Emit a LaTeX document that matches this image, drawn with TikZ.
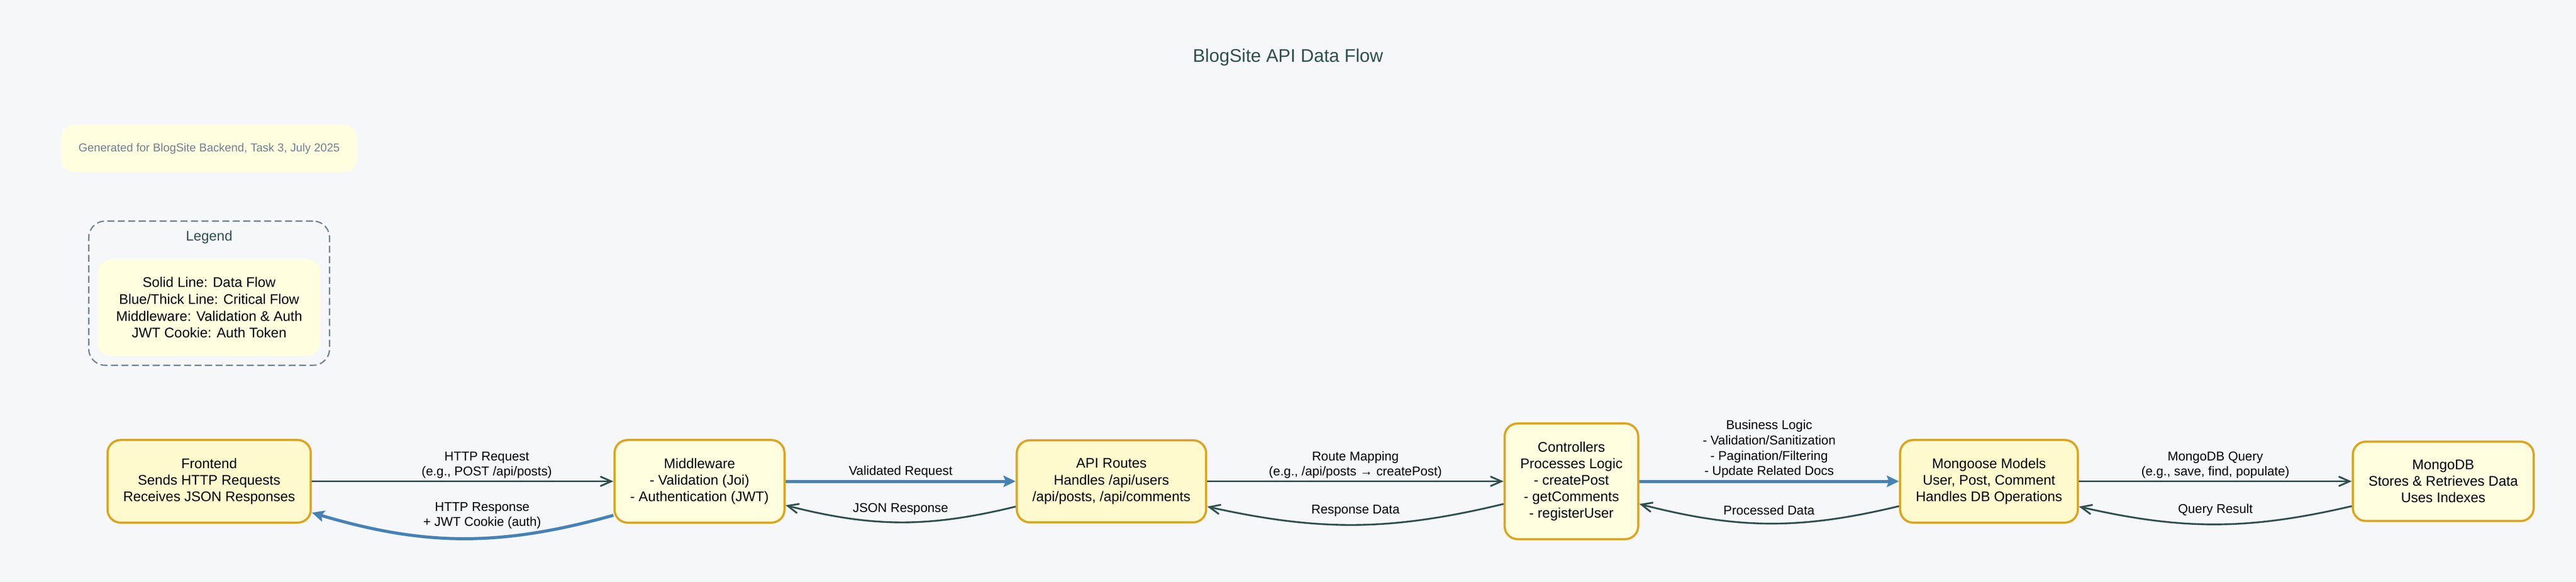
\documentclass[tikz,border=0pt]{standalone}
\usepackage{fontspec}
\setmainfont{Liberation Sans}
\usetikzlibrary{arrows.meta,positioning,fit}
\usepackage{xcolor}
\definecolor{bgcol}{HTML}{F5F7FA}
\definecolor{darkslate}{HTML}{2F4F4F}
\definecolor{steelblue}{HTML}{4682B4}
\definecolor{goldenrod}{HTML}{DAA520}
\definecolor{lemonchiffon}{HTML}{FFFACD}
\definecolor{lightyel}{HTML}{FFFFE0}
\definecolor{slategray}{HTML}{708090}

\begin{document}
\begin{tikzpicture}[
				comp/.style={draw=goldenrod,line width=0.05cm,rounded corners=0.3cm,fill=lemonchiffon,align=center,inner xsep=0.36cm,inner ysep=0.42cm,font=\fontsize{9.1}{10.8}\selectfont},
				compalt/.style={comp,fill=lightyel},
				flow/.style={draw=darkslate,line width=1.14pt,-{Straight Barb[length=2.5mm,width=2.2mm]}},
				critical/.style={draw=steelblue,line width=2pt,-{Stealth[length=2.8mm,width=2.6mm,inset=0.5mm]}},
				lbl/.style={font=\fontsize{8.36}{9.96}\selectfont,align=center,inner sep=0.45mm}
				]
				
				% Sfondo
				\useasboundingbox (0,0) rectangle (59.12,13.36);
				\fill[bgcol] (0,0) rectangle (59.12,13.36);
				
				% Titolo
				\node[font=\fontsize{11.95}{14}\selectfont,text=darkslate] (title) at (29.56,12.04) {BlogSite API Data Flow};
				
				% Componenti
				\node[comp] (frontend) at (4.80,2.31) {Frontend\\Sends HTTP Requests\\Receives JSON Responses};
				\node[compalt,right=6.92cm of frontend] (middleware) {Middleware\\- Validation (Joi)\\- Authentication (JWT)};
				\node[comp,right=5.28cm of middleware] (routes) {API Routes\\Handles /api/users\\/api/posts, /api/comments};
				\node[compalt,right=6.80cm of routes] (controllers) {Controllers\\Processes Logic\\- createPost\\- getComments\\- registerUser};
				\node[comp,right=5.96cm of controllers] (models) {Mongoose Models\\User, Post, Comment\\Handles DB Operations};
				\node[compalt,right=6.26cm of models] (mongodb) {MongoDB\\Stores \& Retrieves Data\\Uses Indexes};
				
				% Legenda
				\node[fill=lightyel,rounded corners=0.29cm,align=center,inner sep=0.41cm,font=\fontsize{9.1}{11}\selectfont,above=1.9cm of frontend] (leginner) {Solid Line: Data Flow\\Blue/Thick Line: Critical Flow\\Middleware: Validation \& Auth\\JWT Cookie: Auth Token};
				\node[font=\fontsize{9.1}{11}\selectfont,text=darkslate,inner sep=0pt,above=0.35cm of leginner] (legtitle) {Legend};
				\node[draw=slategray,line width=0.85pt,dash pattern=on 0.16cm off 0.08cm,rounded corners=0.38cm,inner sep=0.21cm,fit=(legtitle)(leginner)] (legend) {};
				\node[fill=lightyel,rounded corners=0.3cm,inner xsep=0.4cm,inner ysep=0.42cm,text=slategray,font=\fontsize{7.54}{9}\selectfont,above=1.1cm of legend] (generated) {Generated for BlogSite Backend, Task 3, July 2025};
				
				% Richieste
				\draw[flow] (frontend) -- node[lbl,above,pos=0.58] {HTTP Request\\(e.g., POST /api/posts)} (middleware);
				\draw[critical] (middleware) -- node[lbl,above] {Validated Request} (routes);
				\draw[flow] (routes) -- node[lbl,above] {Route Mapping\\(e.g., /api/posts → createPost)} (controllers);
				\draw[critical] (controllers) -- node[lbl,above] {Business Logic\\- Validation/Sanitization\\- Pagination/Filtering\\- Update Related Docs} (models);
				\draw[flow] (models) -- node[lbl,above] {MongoDB Query\\(e.g., save, find, populate)} (mongodb);
				
				% Risposte
				\draw[critical] ([yshift=-7.8mm]middleware.west) to[bend left=16] node[lbl,above=1.3mm,pos=0.43] {HTTP Response\\+ JWT Cookie (auth)} ([yshift=-7.2mm]frontend.east);
				\draw[flow] ([yshift=-5.8mm]routes.west) to[bend left=14] node[lbl,above=1.1mm] {JSON Response} ([yshift=-5.5mm]middleware.east);
				\draw[flow] ([yshift=-5.2mm]controllers.west) to[bend left=13] node[lbl,above=1.3mm] {Response Data} ([yshift=-5.8mm]routes.east);
				\draw[flow] ([yshift=-5.7mm]models.west) to[bend left=14] node[lbl,above=1.3mm] {Processed Data} ([yshift=-5.2mm]controllers.east);
				\draw[flow] ([yshift=-5.7mm]mongodb.west) to[bend left=13] node[lbl,above=1.3mm] {Query Result} ([yshift=-5.8mm]models.east);
				
			\end{tikzpicture}
\end{document}
